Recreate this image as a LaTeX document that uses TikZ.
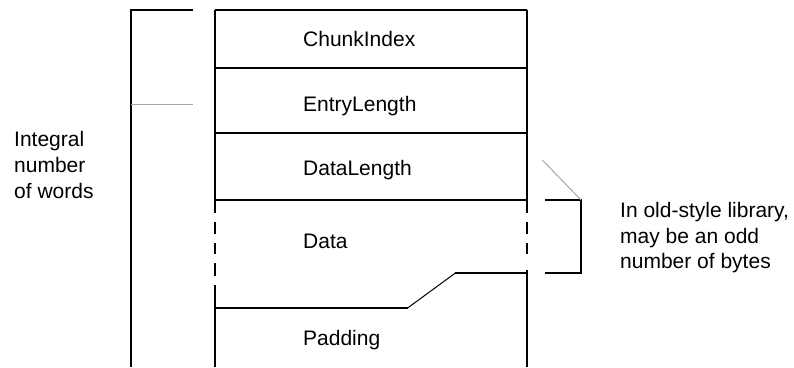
\documentclass[tikz,border=0pt]{standalone}
\usepackage{fontspec}
\setmainfont{Liberation Sans}
\begin{document}
\begin{tikzpicture}[x=1pt,y=-1pt,
  solidline/.style={line width=2pt, black},
  thinline/.style={line width=1pt, black},
  greyline/.style={line width=1pt, gray!70},
  lbl/.style={inner sep=0pt, anchor=base west, font=\fontsize{21}{25.7}\selectfont},
  note/.style={lbl, align=left}]
\useasboundingbox (0,0) rectangle (794,367);
% horizontal separators
\draw[solidline] (215,10) -- (527,10);
\draw[solidline] (215,67.7) -- (527,67.7);
\draw[solidline] (215,133.3) -- (527,133.3);
\draw[solidline] (215,200) -- (527,200);
% left side of record (broken in Data)
\draw[solidline] (215,10) -- (215,213);
\draw[solidline] (215,222) -- (215,234);
\draw[solidline] (215,243) -- (215,254);
\draw[solidline] (215,263) -- (215,276);
\draw[solidline] (215,285) -- (215,367);
% right side of record (broken in Data)
\draw[solidline] (527,10) -- (527,213);
\draw[solidline] (527,222) -- (527,234);
\draw[solidline] (527,243) -- (527,254);
\draw[solidline] (527,270) -- (527,367);
% Data / Padding boundary
\coordinate (pA) at (527,273.3);
\coordinate (pB) at (455,273.3);
\coordinate (pC) at (408,307.7);
\coordinate (pD) at (215,307.7);
\draw[solidline] (pA) -- (pB);
\draw[thinline] (pB) -- (pC);
\draw[solidline] (pC) -- (pD);
% left bracket
\draw[solidline] (193,10) -- (131,10) -- (131,367);
\draw[greyline] (131,104) -- (193,104);
% right bracket
\coordinate (b1) at (545,200);
\coordinate (b2) at (581,200);
\coordinate (b3) at (581,273.3);
\coordinate (b4) at (545,273.3);
\draw[solidline] (b1) -- (b2) -- (b3) -- (b4);
\coordinate (g1) at (542.3,160);
\draw[greyline] (g1) -- (b2);
% labels
\node[lbl] (chunk) at (303,46) {ChunkIndex};
\node[lbl] (entry) at (303,111.7) {EntryLength};
\node[lbl] (dlen) at (303,175) {DataLength};
\node[lbl] (data) at (303,248.3) {Data};
\node[lbl] (pad) at (303,345.7) {Padding};
\node[note] (integral) at (14,198.1) {Integral\\number\\of words};
\node[note] (odd) at (620,268.7) {In old-style library,\\may be an odd\\number of bytes};
\end{tikzpicture}
\end{document}
